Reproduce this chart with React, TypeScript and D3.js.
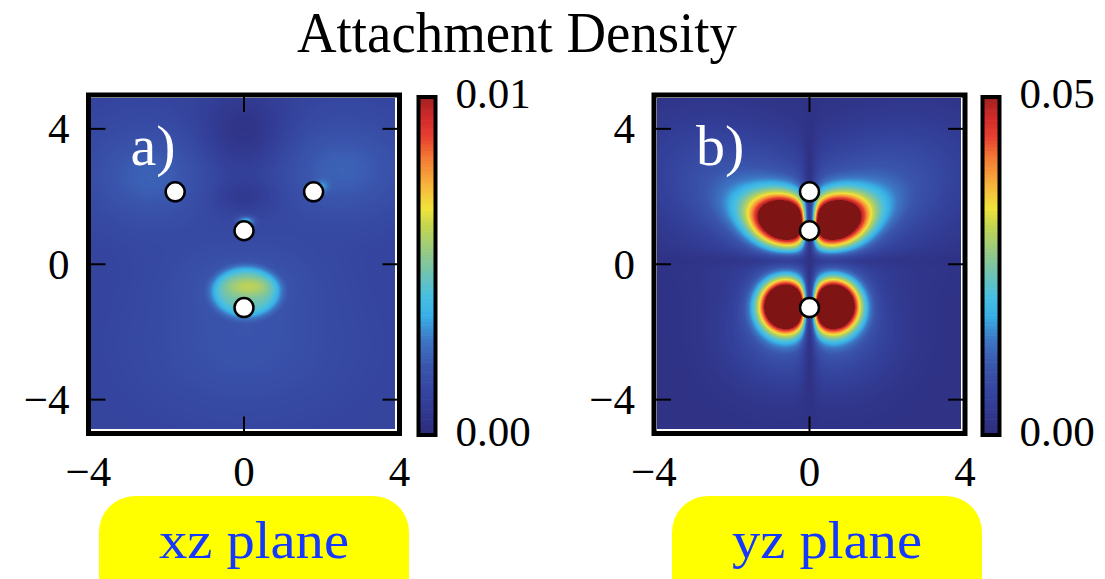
import React, { useMemo, useEffect } from 'react';
import * as d3 from 'd3';

const W = 1105;
const H = 579;

// colour map of the colour bars, bottom (0) to top (1)
const cmapStops = [0, 0.1, 0.2, 0.28, 0.35, 0.41, 0.48, 0.55, 0.62, 0.67, 0.74, 0.82, 0.88, 0.94, 1];
const cmapColors = ['#2d2c7c', '#33409a', '#3a55ad', '#3d78c4', '#38b0e6', '#48bfe0', '#72c3ae', '#9ccb7c', '#c6d54e', '#f1e43a', '#f7b23c', '#f37a33', '#e84030', '#d02a2a', '#a02020'];
const overColor = '#7e1414';

const xTicks = [-4, 0, 4];
const yTicks = [-4, 0, 4];

const titleText = 'Attachment Density';
const panelNames = ['xz plane', 'yz plane'];
const panelTags = ['a)', 'b)'];
const colorMax = [0.01, 0.05];
const cbLabels = [['0.00', '0.01'], ['0.00', '0.05']];
const baseDensity = [0.0012, 0.0015];

// density lobes: [x, y, sx, sy below, sy above, amplitude, power, tilt deg]
const xzLobes = [
  [-2.4, 2.6, 1.1, 1.0, 1.0, 0.0011, 2, 0],
  [2.5, 2.8, 1.2, 1.0, 1.0, 0.0011, 2, 0],
  [0, -2.4, 1.7, 1.3, 1.3, 0.0007, 2, 0],
  [0, -0.4, 1.3, 0.8, 0.8, 0.0006, 2, 0],
  [0, 3.9, 0.8, 0.9, 0.9, -0.0009, 2, 0],
  [0, 2.0, 0.6, 0.35, 0.35, -0.0006, 2, 0],
  [0.05, -0.82, 0.8, 0.68, 0.68, 0.0027, 6, 0],
  [0.12, -0.66, 0.4, 0.2, 0.2, 0.0013, 2, 0],
  [0.05, 1.27, 0.15, 0.1, 0.1, 0.0025, 2, 0],
  [2.0, 2.3, 0.12, 0.12, 0.12, 0.0012, 2, 0],
];
const yzLobes = [
  [-1.7, 2.1, 1.7, 1.2, 1.2, 0.009, 2, -30],
  [1.7, 2.1, 1.7, 1.2, 1.2, 0.009, 2, 30],
  [-0.8, -2.0, 1.0, 1.1, 1.1, 0.007, 2, 0],
  [0.8, -2.0, 1.0, 1.1, 1.1, 0.007, 2, 0],
  [-1.1, 1.5, 0.75, 0.5, 0.5, 0.015, 2, -25],
  [1.1, 1.5, 0.75, 0.5, 0.5, 0.015, 2, 25],
  [-0.6, 1.26, 0.55, 0.5, 0.5, 0.07, 2, -30],
  [0.6, 1.26, 0.55, 0.5, 0.5, 0.07, 2, 30],
  [-0.58, -1.23, 0.43, 0.5, 0.5, 0.11, 2, 0],
  [0.58, -1.23, 0.43, 0.5, 0.5, 0.11, 2, 0],
];
// nodal lines: [axis, position, width, depth]
const xzNodes: any[] = [];
const yzNodes = [['x', 0, 0.2, 0.97], ['y', 0.1, 0.22, 0.75]];

// nuclei
const xzAtomX = [-1.77, 1.79, 0, 0];
const xzAtomY = [2.14, 2.14, 0.99, -1.28];
const yzAtomX = [0, 0, 0];
const yzAtomY = [2.14, 0.99, -1.28];

const panels = [
  { lobes: xzLobes, nodes: xzNodes, ax: xzAtomX, ay: xzAtomY },
  { lobes: yzLobes, nodes: yzNodes, ax: yzAtomX, ay: yzAtomY },
];

// layout
const frameX = [88.5, 654];
const frameW = 311;
const frameTop = 95;
const frameBottom = 433.5;
const cbX = [418.5, 982.5];
const cbW = 17;
const boxX = [99, 672];
const boxW = 310;
const serif = '"Liberation Serif", "Times New Roman", serif';

const cmap = d3.scaleLinear<string>().domain(cmapStops).range(cmapColors).clamp(true);
const lut = d3.range(256).map(i => d3.rgb(cmap(i / 255)));
const over = d3.rgb(overColor);

function density(x: number, y: number, lobes: any[], nodes: any[], base: number) {
  let v = 0;
  for (const [cx, cy, sx, syLo, syHi, a, p, t] of lobes) {
    const r = (t * Math.PI) / 180;
    const dx = x - cx, dy = y - cy;
    const u = (dx * Math.cos(r) + dy * Math.sin(r)) / sx;
    const vv = -dx * Math.sin(r) + dy * Math.cos(r);
    const w = vv / (vv < 0 ? syLo : syHi);
    v += a * Math.exp(-0.5 * Math.pow(u * u + w * w, p / 2));
  }
  for (const [axis, pos, width, depth] of nodes) {
    const d = (axis === 'x' ? x : y) - pos;
    v *= 1 - (depth * width * width) / (d * d + width * width);
  }
  return Math.max(0, base + v);
}

function heatmapUrl(i: number, xs: any, ys: any, x0: number, y0: number, w: number, h: number) {
  const canvas = document.createElement('canvas');
  canvas.width = w;
  canvas.height = h;
  const ctx = canvas.getContext('2d')!;
  const img = ctx.createImageData(w, h);
  const { lobes, nodes } = panels[i];
  for (let py = 0; py < h; py++) {
    const y = ys.invert(y0 + py + 0.5);
    for (let px = 0; px < w; px++) {
      const x = xs.invert(x0 + px + 0.5);
      const t = density(x, y, lobes, nodes, baseDensity[i]) / colorMax[i];
      const c = t > 1 ? over : lut[Math.round(t * 255)];
      const k = (py * w + px) * 4;
      img.data[k] = c.r;
      img.data[k + 1] = c.g;
      img.data[k + 2] = c.b;
      img.data[k + 3] = 255;
    }
  }
  ctx.putImageData(img, 0, 0);
  return canvas.toDataURL();
}

const yScale = d3.scaleLinear().domain([-5, 5]).range([frameBottom, frameTop]);

function Panel({ i }: { i: number }) {
  const x0 = frameX[i];
  const xScale = d3.scaleLinear().domain([-4, 4]).range([x0, x0 + frameW]);
  const hx = Math.round(x0 + 2.5);
  const hy = Math.round(frameTop + 2.5);
  const hw = Math.round(x0 + frameW - 4.5) - hx;
  const hh = Math.round(frameBottom - 4.5) - hy;
  const url = useMemo(() => heatmapUrl(i, xScale, yScale, hx, hy, hw, hh), [i]);
  const cbScale = d3.scaleLinear().domain([0, 1]).range([frameTop + 342 - 4, frameTop + 2]);
  const bands = d3.range(100).map(k => k / 100);
  const p = panels[i];
  return (
    <g>
      <image href={url} x={hx} y={hy} width={hw} height={hh} preserveAspectRatio="none" />
      <rect x={x0} y={frameTop} width={frameW} height={frameBottom - frameTop} fill="none" stroke="#000" strokeWidth={5} />
      {yTicks.map(t => (
        <g key={'y' + t}>
          <line x1={x0} x2={x0 + 17} y1={yScale(t)} y2={yScale(t)} stroke="#000" strokeWidth={2} />
          <line x1={x0 + frameW} x2={x0 + frameW - 17} y1={yScale(t)} y2={yScale(t)} stroke="#000" strokeWidth={2} />
          <text x={x0 - 19} y={yScale(t)} dy="0.34em" textAnchor="end" fontFamily={serif} fontSize={43}>
            {t < 0 ? '\u2212' + Math.abs(t) : t}
          </text>
        </g>
      ))}
      {xTicks.map(t => (
        <g key={'x' + t}>
          <line x1={xScale(t)} x2={xScale(t)} y1={frameBottom} y2={frameBottom - 17} stroke="#000" strokeWidth={2} />
          <line x1={xScale(t)} x2={xScale(t)} y1={frameTop} y2={frameTop + 17} stroke="#000" strokeWidth={2} />
          <text x={xScale(t)} y={486} textAnchor="middle" fontFamily={serif} fontSize={43}>
            {t < 0 ? '\u2212' + Math.abs(t) : t}
          </text>
        </g>
      ))}
      {p.ax.map((ax, k) => (
        <circle key={k} cx={xScale(ax)} cy={yScale(p.ay[k])} r={9.5} fill="#fff" stroke="#000" strokeWidth={2.5} />
      ))}
      <text x={x0 + 42} y={165} fill="#fff" fontFamily={serif} fontSize={58}>{panelTags[i]}</text>
      {bands.map(b => (
        <rect key={b} x={cbX[i]} y={cbScale(b + 0.01) - 0.3} width={cbW} height={cbScale(b) - cbScale(b + 0.01) + 0.6} fill={cmap(b + 0.005)} />
      ))}
      <rect x={cbX[i]} y={frameTop + 2} width={cbW} height={338} fill="none" stroke="#000" strokeWidth={4} />
      <text x={cbX[i] + 37} y={446} fontFamily={serif} fontSize={43}>{cbLabels[i][0]}</text>
      <text x={cbX[i] + 37} y={108} fontFamily={serif} fontSize={43}>{cbLabels[i][1]}</text>
      <rect x={boxX[i]} y={496} width={boxW} height={120} rx={36} fill="#ffff00" />
      <text x={boxX[i] + boxW / 2} y={558} textAnchor="middle" fill="#1438ff" fontFamily={serif} fontSize={52} textLength={190} lengthAdjust="spacingAndGlyphs">
        {panelNames[i]}
      </text>
    </g>
  );
}

export default function App() {
  useEffect(() => {
    document.body.style.margin = '0';
  }, []);
  return (
    <svg width={W} height={H} style={{ display: 'block', position: 'absolute', left: 0, top: 0 }}>
      <rect width={W} height={H} fill="#fff" />
      <text x={517} y={52} textAnchor="middle" fontFamily={serif} fontSize={56} textLength={440} lengthAdjust="spacingAndGlyphs">
        {titleText}
      </text>
      <Panel i={0} />
      <Panel i={1} />
    </svg>
  );
}
